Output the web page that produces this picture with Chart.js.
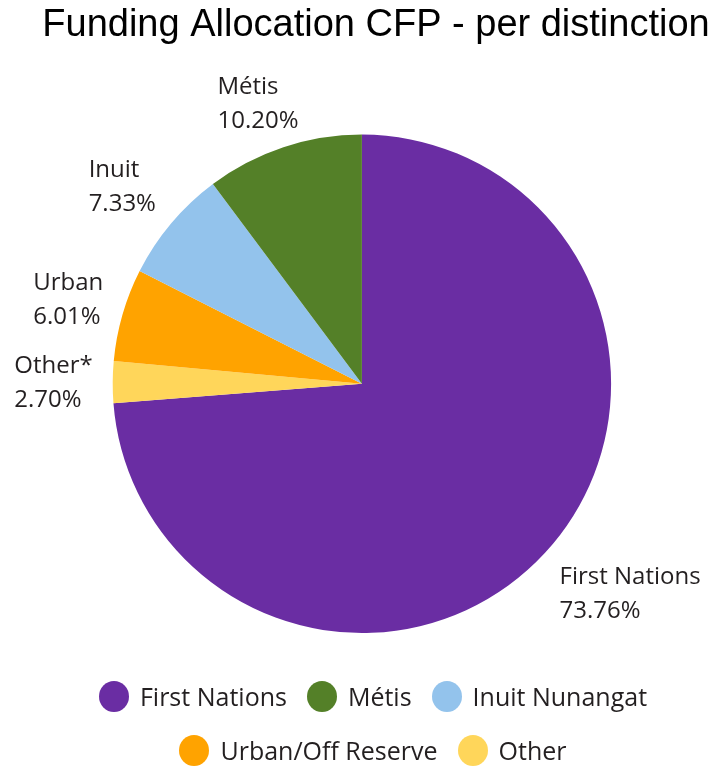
<!DOCTYPE html>
<html>
<head>
<meta charset="utf-8">
<script src="https://cdn.jsdelivr.net/npm/chart.js@4.4.1/dist/chart.umd.min.js"></script>
<style>
  html, body { margin: 0; padding: 0; background: #fff; }
  #wrap { position: relative; width: 716px; height: 767px; }
  #legend {
    position: absolute; left: 78px; top: 680px; width: 590px;
    display: flex; flex-wrap: wrap; justify-content: center; row-gap: 22px;
    font-family: "Open Sans", sans-serif; font-size: 25px; color: #231f20;
  }
  .item { display: flex; align-items: center; height: 32px; margin: 0 10px; }
  .dot { width: 30px; height: 31px; border-radius: 50%; margin-right: 11px; }
</style>
</head>
<body>
<div id="wrap">
  <canvas id="pie" width="716" height="767"></canvas>
  <div id="legend"></div>
</div>
<script>
// slices in drawing order (clockwise from 12 o'clock)
const categories = ["First Nations", "Other*", "Urban", "Inuit", "Métis"];
const shares = [73.76, 2.70, 6.01, 7.33, 10.20];
const colors = ["#6a2da3", "#ffd65a", "#ffa300", "#93c3ec", "#548028"];

// legend text and the order it is listed in
const legendNames = ["First Nations", "Other", "Urban/Off Reserve", "Inuit Nunangat", "Métis"];
const legendOrder = [0, 4, 3, 2, 1];

const labelFont = '24px "Open Sans"';

// name + percent written outside each slice
const sliceLabels = {
  id: 'sliceLabels',
  afterDatasetsDraw(chart) {
    const ctx = chart.ctx;
    const arcs = chart.getDatasetMeta(0).data;
    const capH = 17, lineH = 34, gap = 20;
    const clamp = v => Math.max(-1, Math.min(1, v * 1.5));
    ctx.save();
    ctx.font = labelFont;
    ctx.fillStyle = '#231f20';
    ctx.textAlign = 'left';
    ctx.textBaseline = 'alphabetic';
    arcs.forEach((arc, i) => {
      const p = arc.getProps(['x', 'y', 'startAngle', 'endAngle', 'outerRadius'], true);
      const mid = (p.startAngle + p.endAngle) / 2;
      const ux = Math.cos(mid), uy = Math.sin(mid);
      const lines = [categories[i], shares[i].toFixed(2) + '%'];
      const w = Math.max(...lines.map(t => ctx.measureText(t).width));
      const h = capH + lineH;
      const px = p.x + ux * (p.outerRadius + gap);
      const py = p.y + uy * (p.outerRadius + gap);
      const left = px + w / 2 * clamp(ux) - w / 2;
      const top = py + h / 2 * clamp(uy) - h / 2;
      ctx.fillText(lines[0], left, top + capH);
      ctx.fillText(lines[1], left, top + capH + lineH);
    });
    ctx.restore();
  }
};

new Chart(document.getElementById('pie'), {
  type: 'pie',
  data: {
    labels: categories,
    datasets: [{
      data: shares,
      backgroundColor: colors,
      borderWidth: 0
    }]
  },
  options: {
    responsive: false,
    animation: false,
    layout: { padding: { left: 36, right: 0, top: 0, bottom: 134 } },
    plugins: {
      legend: { display: false },
      tooltip: { enabled: false },
      title: {
        display: true,
        text: 'Funding Allocation CFP - per distinction',
        color: '#000',
        font: { family: '"Liberation Sans", Arial, sans-serif', size: 38, weight: 'normal' },
        padding: { top: 3, bottom: 86 }
      },
      // empty box on the right, only to pull the pie a bit left of the title
      subtitle: {
        display: true,
        position: 'right',
        text: ' ',
        font: { size: 1 },
        padding: { top: 27, bottom: 0 }
      }
    }
  },
  plugins: [sliceLabels]
});

const legend = document.getElementById('legend');
legendOrder.forEach(i => {
  const item = document.createElement('div');
  item.className = 'item';
  const dot = document.createElement('span');
  dot.className = 'dot';
  dot.style.background = colors[i];
  const txt = document.createElement('span');
  txt.textContent = legendNames[i];
  item.appendChild(dot);
  item.appendChild(txt);
  legend.appendChild(item);
});
</script>
</body>
</html>
